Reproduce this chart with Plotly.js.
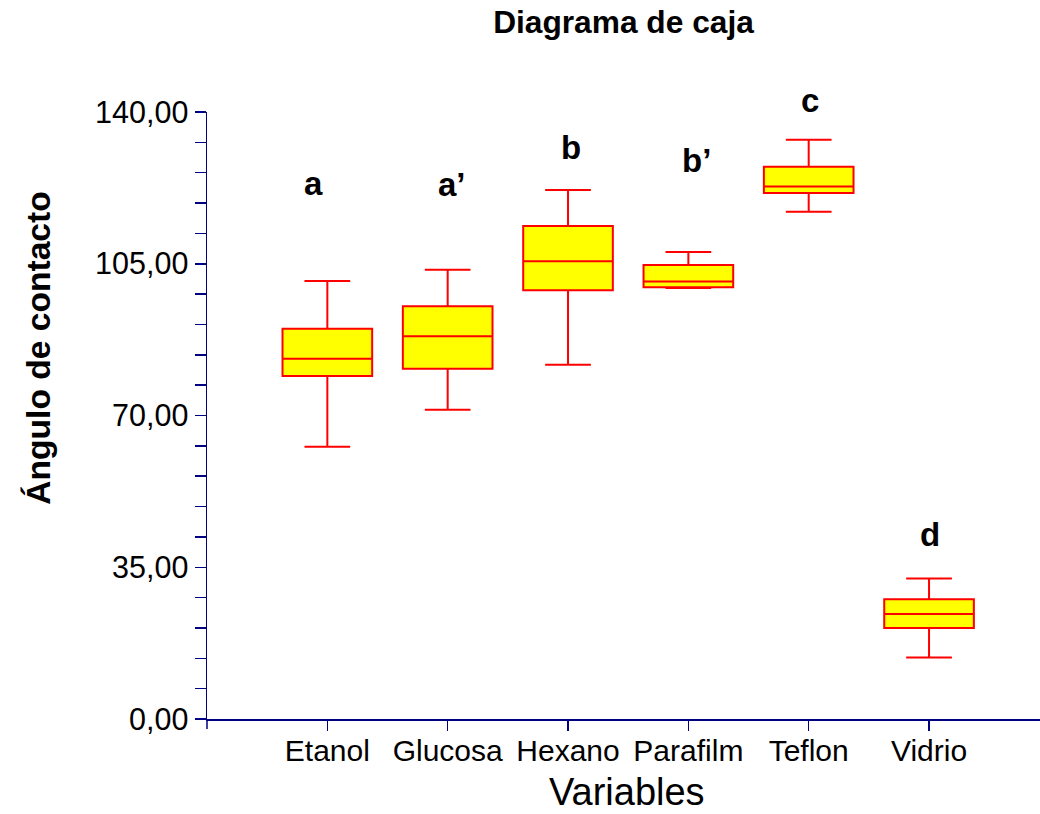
<!DOCTYPE html>
<html>
<head>
<meta charset="utf-8">
<script src="https://cdn.plot.ly/plotly-3.0.1.min.js"></script>
<style>
  html, body { margin: 0; padding: 0; background: #ffffff; }
  #chart { width: 1040px; height: 814px; }
</style>
</head>
<body>
<div id="chart"></div>
<script>
// Contact angle by surface: five-number summaries per variable
const categories = ["Etanol", "Glucosa", "Hexano", "Parafilm", "Teflon", "Vidrio"];
const lowerWhisker = [62.8, 71.3, 81.7, 99.4, 117.0, 14.2];
const q1Values     = [79.1, 80.8, 98.9, 99.6, 121.3, 21.0];
const medianValues = [83.1, 88.3, 105.6, 100.9, 122.8, 24.2];
const q3Values     = [90.0, 95.2, 113.7, 104.7, 127.4, 27.6];
const upperWhisker = [101.0, 103.6, 122.0, 107.7, 133.6, 32.4];

// Significance group letters above each box
const groupLetters = ["a", "a\u2019", "b", "b\u2019", "c", "d"];

const FONT = "Liberation Sans, Arial, Helvetica, sans-serif";
const AXIS_BLUE = "#000080";
const Y_MAX = 140;

const trace = {
  type: "box",
  x: categories,
  q1: q1Values,
  median: medianValues,
  q3: q3Values,
  lowerfence: lowerWhisker,
  upperfence: upperWhisker,
  width: 0.745,
  whiskerwidth: 0.51,
  fillcolor: "#FFFF00",
  line: { color: "#FF0000", width: 2 },
  boxpoints: false,
  hoverinfo: "skip",
  showlegend: false
};

// label placement (category index offset, height in axis units) for each letter;
// heights go through paper coordinates so labels above the axis top still show
const letterPos = [
  [-0.116, 123.5],
  [1.036, 123.3],
  [2.025, 131.8],
  [3.064, 128.9],
  [4.011, 142.6],
  [5.008, 42.6]
];

const letterAnnotations = groupLetters.map((t, i) => ({
  x: letterPos[i][0], y: letterPos[i][1] / Y_MAX,
  xref: "x", yref: "paper",
  text: "<b>" + t + "</b>", showarrow: false,
  xanchor: "center", yanchor: "middle",
  font: { family: FONT, size: 33, color: "#000000" }
}));

const layout = {
  width: 1040,
  height: 814,
  margin: { l: 207, r: 0, t: 112, b: 95, pad: 0 },
  paper_bgcolor: "#ffffff",
  plot_bgcolor: "#ffffff",
  separators: ",.",
  showlegend: false,
  title: {
    text: "<b>Diagrama de caja</b>",
    x: 0.5995, xref: "container", xanchor: "center",
    y: 0.9725, yref: "container", yanchor: "middle",
    font: { family: FONT, size: 31.7, color: "#000000" }
  },
  xaxis: {
    type: "category",
    range: [-1, 5.922],
    showgrid: false,
    zeroline: false,
    showline: true,
    linecolor: AXIS_BLUE,
    linewidth: 1.5,
    ticks: "outside",
    ticklen: 10,
    tickwidth: 1.5,
    tickcolor: AXIS_BLUE,
    ticklabelstandoff: -6,
    tickfont: { family: FONT, size: 30, color: "#000000" }
  },
  yaxis: {
    range: [0, Y_MAX],
    tick0: 0,
    dtick: 35,
    tickformat: ".2f",
    showgrid: false,
    zeroline: false,
    showline: true,
    linecolor: AXIS_BLUE,
    linewidth: 1.5,
    ticks: "outside",
    ticklen: 11,
    tickwidth: 1.5,
    tickcolor: AXIS_BLUE,
    tickfont: { family: FONT, size: 30.5, color: "#000000" },
    minor: {
      tick0: 0,
      dtick: 7,
      ticks: "outside",
      ticklen: 11,
      tickwidth: 1.5,
      tickcolor: AXIS_BLUE
    }
  },
  shapes: [
    {
      type: "line", xref: "paper", yref: "paper",
      x0: 0, x1: 0, y0: 0, y1: -0.0165,
      line: { color: AXIS_BLUE, width: 1.5 }
    }
  ],
  annotations: letterAnnotations.concat([
    {
      text: "<b>\u00c1ngulo de contacto</b>",
      xref: "paper", yref: "paper",
      x: -0.2017, y: 0.6117,
      xanchor: "center", yanchor: "middle",
      textangle: -90, showarrow: false,
      font: { family: FONT, size: 33.6, color: "#000000" }
    },
    {
      text: "Variables",
      xref: "paper", yref: "paper",
      x: 0.504, y: -0.1195,
      xanchor: "center", yanchor: "middle",
      showarrow: false,
      font: { family: FONT, size: 38, color: "#000000" }
    }
  ])
};

Plotly.newPlot("chart", [trace], layout, { displayModeBar: false, staticPlot: true });
</script>
</body>
</html>
